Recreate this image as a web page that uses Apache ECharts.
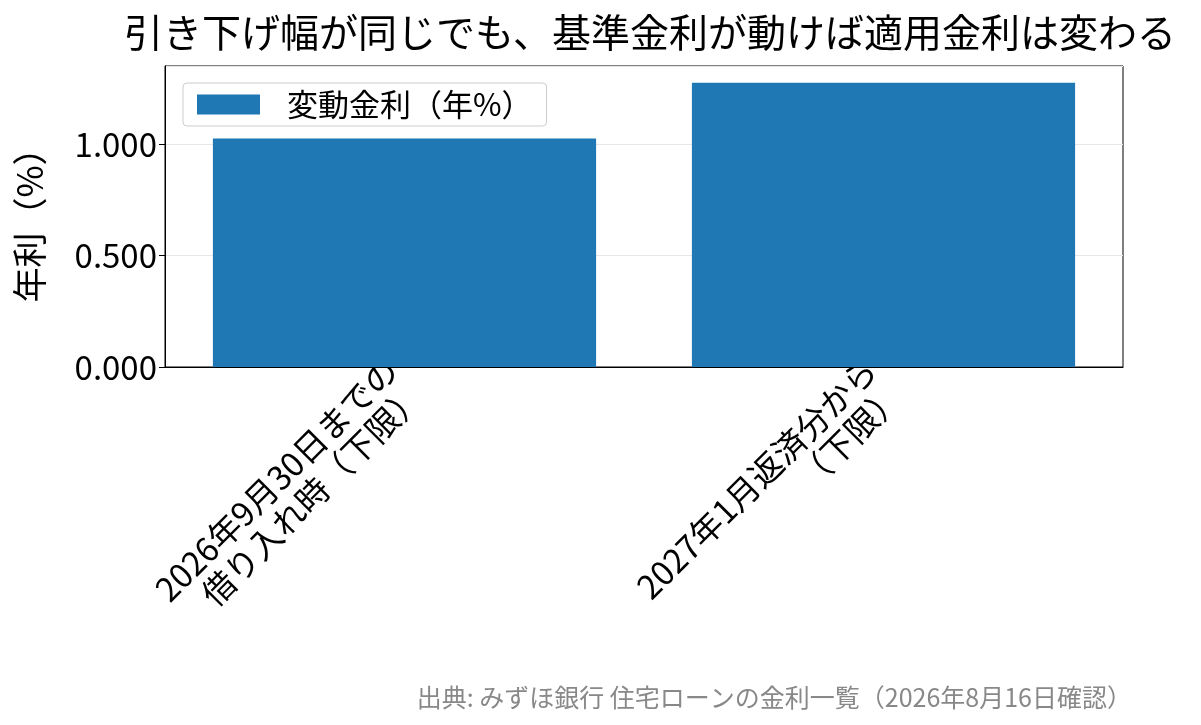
<!DOCTYPE html><html><head><meta charset="utf-8">
<script src="https://cdn.jsdelivr.net/npm/echarts@6/dist/echarts.min.js"></script>
<style>body{margin:0}#c{width:1201px;height:725px}</style></head><body><div id="c"></div>
<script>
const categories = ['2026年9月30日までの\n借り入れ時（下限）', '2027年1月返済分から\n（下限）'];
const rates = [1.025, 1.275];
const seriesName = '変動金利（年%）';
const F = 'Noto Sans CJK JP';
const chart = echarts.init(document.getElementById('c'));
chart.setOption({
  animation: false,
  textStyle: {fontFamily: F},
  title: [{text: '引き下げ幅が同じでも、基準金利が動けば適用金利は変わる', left: 645, top: 8, textAlign: 'center',
    textStyle: {fontFamily: F, fontSize: 39, fontWeight: 'normal', color: '#000'}},
    {text: '出典: みずほ銀行 住宅ローンの金利一覧（2026年8月16日確認）', right: 64, top: 680,
    textStyle: {fontFamily: F, fontSize: 25, fontWeight: 'normal', color: '#888'}}],
  grid: {left: 165, right: 78, top: 66, bottom: 358, show: true, borderColor: '#000', borderWidth: 1},
  legend: {left: 183, top: 83, padding: [6, 14], itemGap: 0, itemWidth: 63, itemHeight: 20,
    backgroundColor: '#fff', borderColor: '#ccc', borderWidth: 1, borderRadius: 4,
    textStyle: {fontFamily: F, fontSize: 31, color: '#000', padding: [0, 0, 0, 22]},
    data: [{name: seriesName, icon: 'rect'}]},
  xAxis: {type: 'category', data: categories,
    axisLine: {lineStyle: {color: '#000'}}, axisTick: {alignWithLabel: true, length: 6, lineStyle: {color: '#000'}},
    axisLabel: {rotate: 45, fontFamily: F, fontSize: 33, color: '#000', lineHeight: 36, margin: 10, interval: 0}},
  yAxis: {type: 'value', min: 0, max: 1.35, interval: 0.5, name: '年利（%）', nameLocation: 'middle', nameGap: 118,
    nameTextStyle: {fontFamily: F, fontSize: 35, color: '#000'},
    axisLine: {show: true, lineStyle: {color: '#000'}}, axisTick: {show: true, length: 6, lineStyle: {color: '#000'}},
    axisLabel: {fontFamily: F, fontSize: 33, color: '#000', formatter: v => v.toFixed(3), showMaxLabel: false},
    splitLine: {lineStyle: {color: '#e6e6e6'}}},
  series: [{name: seriesName, type: 'bar', data: rates, barWidth: '80%', itemStyle: {color: '#1f77b4'}}]
});
</script></body></html>
